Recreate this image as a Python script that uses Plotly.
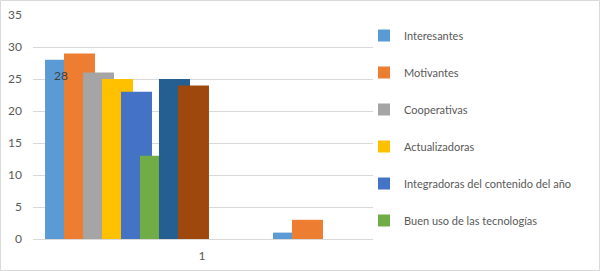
import plotly.graph_objects as go

categories = [1, 2]
series_names = ["Interesantes", "Motivantes", "Cooperativas", "Actualizadoras",
                "Integradoras del contenido del año", "Buen uso de las tecnologías",
                "Serie 7", "Serie 8"]
values_cat1 = [28, 29, 26, 25, 23, 13, 25, 24]
values_cat2 = [1, 3, 0, 0, 0, 0, 0, 0]
colors = ["#5B9BD5", "#ED7D31", "#A5A5A5", "#FFC000",
          "#4472C4", "#70AD47", "#255E91", "#9E480E"]
legend_shown = [True, True, True, True, True, True, False, False]
tick_label = ["1"]

W, H = 600, 271
ML, MR, MT, MB = 33, 227, 15, 32
PW, PH = W - ML - MR, H - MT - MB

bar_w = 0.136      # bar width in category units
step = 0.0833      # overlap step between consecutive series
n = len(series_names)
span = step * (n - 1) + bar_w
xmin, xmax = 1 - 94 / 228, 1 + 246 / 228

fig = go.Figure()
for i, name in enumerate(series_names):
    fig.add_trace(go.Bar(
        x=categories,
        y=[values_cat1[i], values_cat2[i]],
        name=name,
        marker=dict(color=colors[i], line=dict(width=0)),
        width=bar_w,
        offset=-span / 2 + i * step,
        showlegend=legend_shown[i],
        legendgroup=f"g{i}",
    ))

# data label "28" on first series, first category
fig.add_annotation(
    x=categories[0] - span / 2 + bar_w / 2, y=values_cat1[0],
    text=str(values_cat1[0]), showarrow=False, yanchor="top", yshift=-6,
    font=dict(family="Lato", size=12, color="#404040"),
)

# outer chart border
fig.add_shape(type="rect", xref="paper", yref="paper",
              x0=-(ML - 0.5) / PW, x1=(W - ML - 0.5) / PW,
              y0=-(MB - 0.5) / PH, y1=(H - MB - 0.5) / PH,
              line=dict(color="#D9D9D9", width=1), layer="below")

fig.update_layout(
    width=W, height=H,
    margin=dict(l=ML, r=MR, t=MT, b=MB, autoexpand=False),
    barmode="overlay",
    plot_bgcolor="white", paper_bgcolor="white",
    font=dict(family="Lato", size=11, color="#595959"),
    xaxis=dict(range=[xmin, xmax], tickvals=[1 + 75 / 228], ticktext=tick_label,
               showgrid=False, zeroline=False, showline=False, ticks="",
               ticklabelstandoff=8, tickfont=dict(size=12), automargin=False),
    yaxis=dict(range=[0, 35], dtick=5, showgrid=True, gridcolor="#D9D9D9",
               gridwidth=1, zeroline=True, zerolinecolor="#D9D9D9", zerolinewidth=1,
               showline=False, ticks="", ticklabelstandoff=10,
               tickfont=dict(size=12), automargin=False),
    legend=dict(x=(364 - ML) / PW, xanchor="left", y=1 + (MT - 21) / PH, yanchor="top",
                font=dict(size=11, color="#595959"), tracegroupgap=18,
                traceorder="grouped", itemwidth=30, bgcolor="rgba(0,0,0,0)"),
)

fig.write_html("out.html")
